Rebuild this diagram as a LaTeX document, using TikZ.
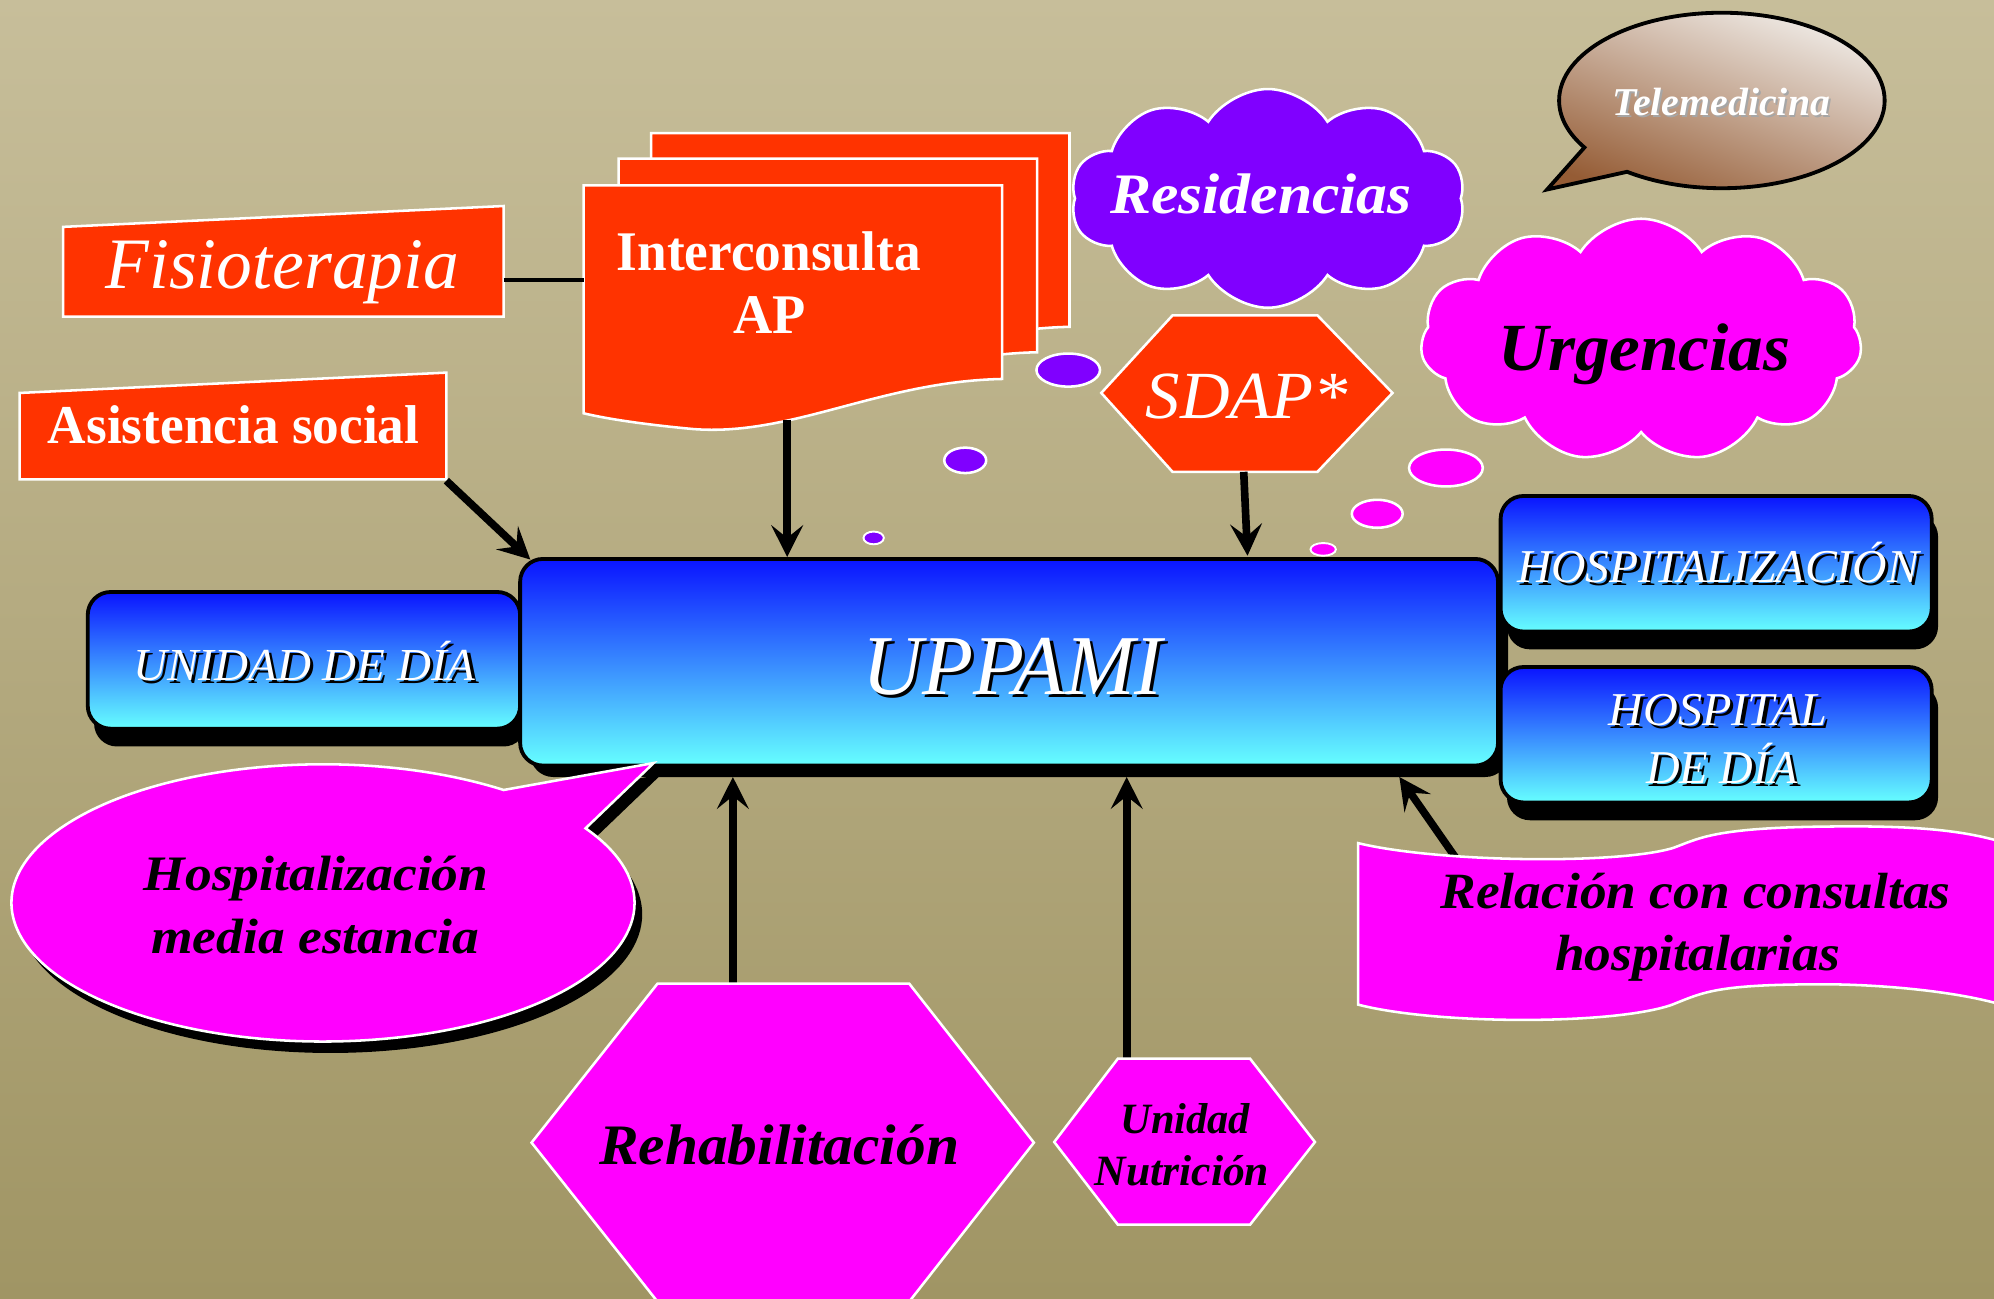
\documentclass[tikz,border=0pt]{standalone}
\usepackage{fontspec}
\setmainfont{Liberation Serif}
\usetikzlibrary{shapes.geometric,shapes.symbols,shapes.callouts,shadows,arrows.meta}
\definecolor{bgtop}{RGB}{199,190,154}
\definecolor{bgbot}{RGB}{160,149,100}
\definecolor{ored}{HTML}{FF3300}
\definecolor{mag}{HTML}{FF00FF}
\definecolor{vio}{HTML}{8000FF}
\definecolor{bluet}{HTML}{0A14FF}
\definecolor{cyanb}{HTML}{66FFFF}
\definecolor{telet}{HTML}{EEE9E4}
\definecolor{telem}{HTML}{C4AFA6}
\definecolor{teleb}{HTML}{955C35}
\newcommand{\fs}[1]{\fontsize{#1}{#1}\selectfont}
\newcommand{\fitw}[2]{\resizebox{#1pt}{\height}{#2}}
\newcommand{\shtext}[6]{%
  \node[lbl, text=black] (#1s) at (#2+2.5,#3+2.5) {\fs{#4}\fitw{#5}{#6}};
  \node[lbl, text=white] (#1) at (#2,#3) {\fs{#4}\fitw{#5}{#6}};}
\tikzset{
  shp/.style={draw=white, line width=2pt},
  bluebox/.style={rounded corners=18pt, draw=black, line width=3pt, top color=bluet, bottom color=cyanb, inner sep=0pt},
  conn/.style={line width=6pt, -{Stealth[length=25pt,width=25pt,inset=10pt]}},
  lbl/.style={anchor=base, inner sep=0pt, outer sep=0pt},
  bubble/.style={ellipse, fill=#1, draw=white, line width=2pt, inner sep=0pt},
}
\begin{document}
\begin{tikzpicture}[x=1pt,y=-1pt]
\useasboundingbox (0,0) rectangle (1568,1021);
\shade[top color=bgtop, bottom color=bgbot] (0,0) rectangle (1568,1021);

% Telemedicina speech bubble
\node[ellipse callout, callout absolute pointer={(1216.6,149)}, callout pointer arc=22,
      minimum width=256pt, minimum height=138pt, draw=black, line width=3pt,
      top color=telet, middle color=telem, bottom color=teleb, shading angle=-20] (tele) at (1354,79) {};

% Interconsulta AP document stack
\foreach \dx/\dy/\nm in {53/-41/icback, 27.5/-21/icmid, 0/0/icfront}{
  \draw[shp, fill=ored, shift={(\dx,\dy)}] (459,145.7) -- (788,145.7) -- (788,298)
    .. controls (690,300) and (620,345) .. (541,337)
    .. controls (510,334) and (480,330) .. (459,325) -- cycle;
}
\coordinate (icL) at (459,220);
\coordinate (icB) at (619,330);

% Fisioterapia
\draw[shp, fill=ored] (49.6,178.4) -- (396,162) -- (396,249) -- (49.6,249) -- cycle;
\coordinate (fisR) at (396,220);
\draw[line width=3pt] (fisR) -- (icL);

% Asistencia social
\draw[shp, fill=ored] (15.4,309) -- (351,293) -- (351,377) -- (15.4,377) -- cycle;
\coordinate (asisBR) at (351,378);

% Clouds
\node[cloud, cloud puffs=10, cloud puff arc=115, cloud ignores aspect, minimum width=310pt,
      minimum height=172pt, fill=vio, shp] (res) at (997,156) {};
\node[cloud, cloud puffs=11, cloud puff arc=115, cloud ignores aspect, minimum width=347pt,
      minimum height=191pt, fill=mag, shp] (urg) at (1290.5,267.5) {};

% SDAP hexagon
\draw[shp, fill=ored] (866,309) -- (922,248) -- (1036,248) -- (1095,309) -- (1036,371) -- (922,371) -- cycle;
\coordinate (sdapB) at (978,371);

% thought bubbles
\node[bubble=vio, minimum width=50pt, minimum height=26pt] (pb1) at (840,291) {};
\node[bubble=vio, minimum width=33pt, minimum height=20pt] (pb2) at (759,362) {};
\node[bubble=vio, minimum width=16pt, minimum height=10pt, line width=1.5pt] (pb3) at (687,423) {};
\node[bubble=mag, minimum width=58pt, minimum height=29pt] (mb1) at (1137,368) {};
\node[bubble=mag, minimum width=40pt, minimum height=22pt] (mb2) at (1083,404) {};
\node[bubble=mag, minimum width=20pt, minimum height=10pt, line width=1.5pt] (mb3) at (1040.5,432) {};

% blue boxes
\node[bluebox, minimum width=340pt, minimum height=107.5pt,
      drop shadow={shadow xshift=5pt, shadow yshift=-14pt, fill=black, opacity=1}] (unid) at (239,519.25) {};
\node[bluebox, minimum width=769pt, minimum height=162.5pt,
      drop shadow={shadow xshift=8pt, shadow yshift=-9pt, fill=black, opacity=1}] (upp) at (793.5,520.75) {};
\node[bluebox, minimum width=339pt, minimum height=106.6pt,
      drop shadow={shadow xshift=5pt, shadow yshift=-14pt, fill=black, opacity=1}] (hosp) at (1349.5,443.3) {};
\node[bluebox, minimum width=339pt, minimum height=106.5pt,
      drop shadow={shadow xshift=5pt, shadow yshift=-14pt, fill=black, opacity=1}] (hdia) at (1349.5,577.75) {};

% Hospitalizacion media estancia callout
\node[ellipse callout, callout absolute pointer={(514,600)}, callout pointer arc=22,
      minimum width=490pt, minimum height=218pt, fill=mag, shp,
      drop shadow={shadow xshift=6pt, shadow yshift=-9pt, fill=black, opacity=1}] (hme) at (254,710) {};

% connectors
\coordinate (uppTL) at (417,440);
\coordinate (sdapT) at (981,437);
\coordinate (rehT) at (576.3,773.5);
\coordinate (rehE) at (576.3,611);
\coordinate (nutT) at (886,832.5);
\coordinate (nutE) at (886,611);
\coordinate (relT) at (1145,675);
\coordinate (relE) at (1100.4,611);
\draw[conn] (asisBR) -- (uppTL);
\draw[conn] (icB) -- (icB |- upp.north);
\draw[conn] (sdapB) -- (sdapT);
\draw[conn] (rehT) -- (rehE);
\draw[conn] (nutT) -- (nutE);
\draw[conn] (relT) -- (relE);

% Rehabilitacion hexagon
\draw[shp, fill=mag] (418,898.5) -- (517,773.5) -- (715,773.5) -- (813,898.5) -- (715,1023.5) -- (517,1023.5) -- cycle;
% Unidad Nutricion hexagon
\draw[shp, fill=mag] (829,898) -- (879,832.5) -- (983,832.5) -- (1034,898) -- (983,963) -- (879,963) -- cycle;
% Relacion banner
\draw[shp, fill=mag] (1068,663) .. controls (1130,678) and (1270,680) .. (1315,667)
  .. controls (1335,660) and (1345,651) .. (1434,650)
  .. controls (1500,649) and (1545,652) .. (1580,664) -- (1580,792)
  .. controls (1545,780) and (1480,774) .. (1434,774)
  .. controls (1350,774) and (1340,780) .. (1315,790)
  .. controls (1270,806) and (1130,806) .. (1068,790) -- cycle;

% texts
\node[lbl, text=white] (tfis) at (222,226.6) {\fs{57}\fitw{278}{\itshape Fisioterapia}};
\node[lbl, text=white] (tic1) at (604.5,212.4) {\fs{44}\fitw{239}{\bfseries Interconsulta}};
\node[lbl, text=white] (tic2) at (605,262) {\fs{44}\fitw{57}{\bfseries AP}};
\node[lbl, text=white] (tasis) at (183.7,349) {\fs{43}\fitw{292}{\bfseries Asistencia social}};
\node[lbl, text=white] (tsdap) at (980.5,329) {\fs{53}\fitw{159}{\itshape SDAP*}};
\node[lbl, text=white] (tres) at (991.5,168) {\fs{45}\fitw{237}{\bfseries\itshape Residencias}};
\node[lbl, text=black] (turg) at (1293,291) {\fs{53}\fitw{230}{\bfseries\itshape Urgencias}};
\node[lbl, text=black!35] (ttels) at (1355,92) {\fs{31}\fitw{171}{\bfseries\itshape Telemedicina}};
\node[lbl, text=white] (ttel) at (1353.5,90.5) {\fs{31}\fitw{171}{\bfseries\itshape Telemedicina}};
\shtext{tunid}{239.5}{534.8}{36}{269}{\itshape UNIDAD DE DÍA}
\shtext{tupp}{796}{545.8}{67}{236}{\itshape UPPAMI}
\shtext{thosp}{1351}{457.8}{37}{316}{\itshape HOSPITALIZACIÓN}
\shtext{thd1}{1351}{570.5}{37}{172}{\itshape HOSPITAL}
\shtext{thd2}{1354}{615.8}{37}{119}{\itshape DE DÍA}
\node[lbl, text=black] (thme1) at (248.5,700) {\fs{39}\fitw{271}{\bfseries\itshape Hospitalización}};
\node[lbl, text=black] (thme2) at (248,750) {\fs{39}\fitw{258}{\bfseries\itshape media estancia}};
\node[lbl, text=black] (treh) at (612.7,916) {\fs{45}\fitw{283}{\bfseries\itshape Rehabilitación}};
\node[lbl, text=black] (tnut1) at (932,891) {\fs{34}\fitw{102}{\bfseries\itshape Unidad}};
\node[lbl, text=black] (tnut2) at (929.5,932.6) {\fs{34}\fitw{137}{\bfseries\itshape Nutrición}};
\node[lbl, text=black] (trel1) at (1333.4,714) {\fs{40}\fitw{401}{\bfseries\itshape Relación con consultas}};
\node[lbl, text=black] (trel2) at (1334.8,763.5) {\fs{40}\fitw{224}{\bfseries\itshape hospitalarias}};
\end{tikzpicture}
\end{document}
